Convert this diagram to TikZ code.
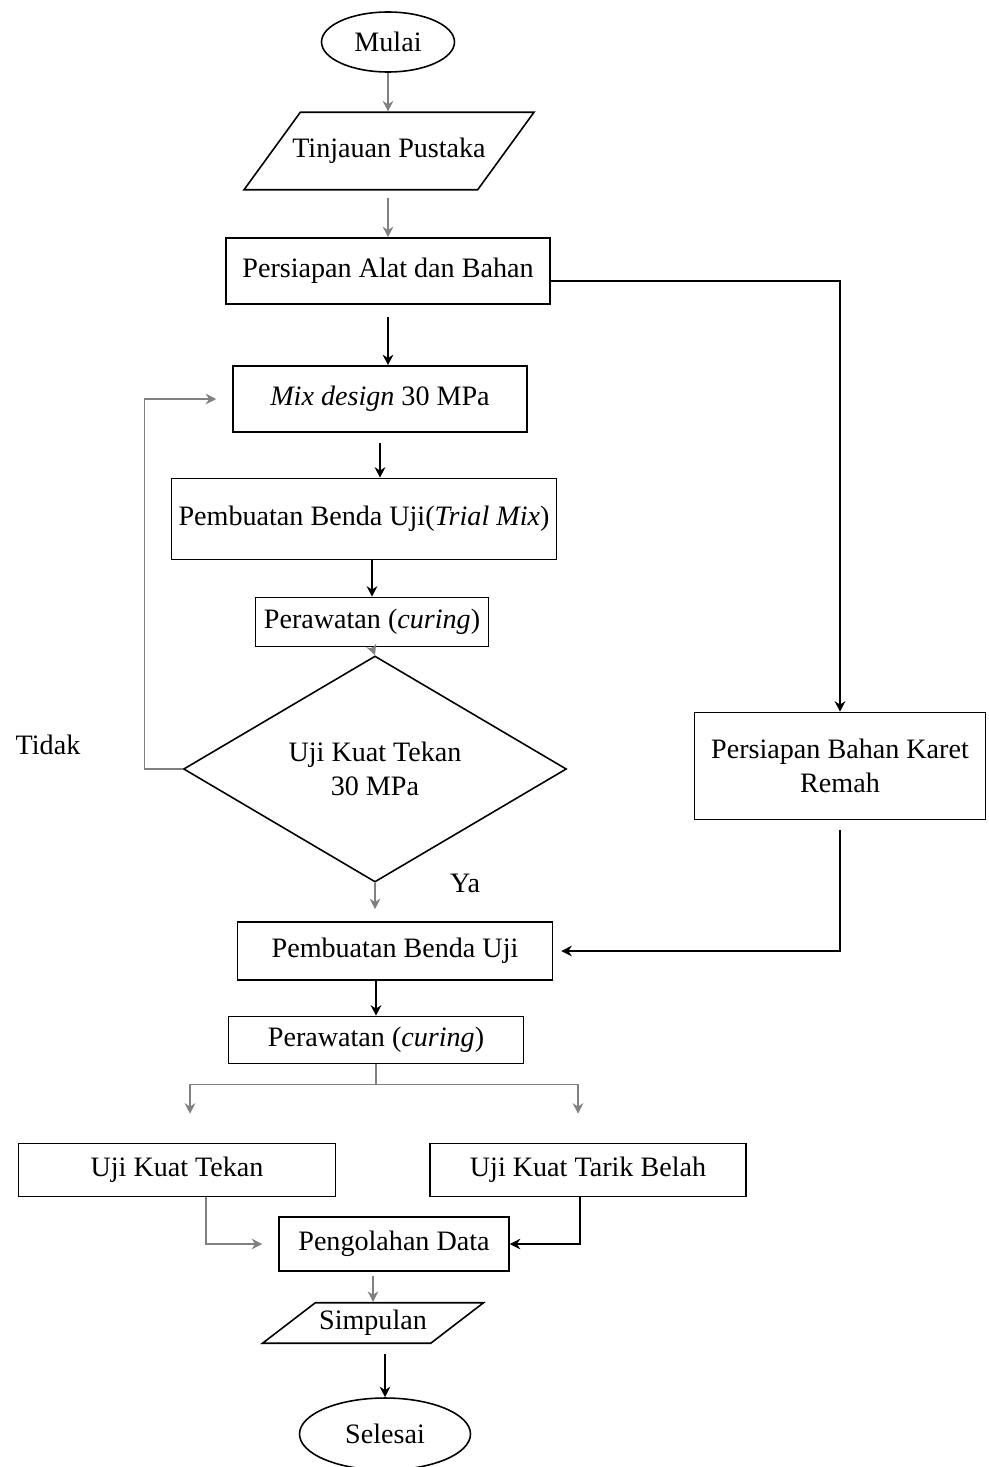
\documentclass[tikz,border=0pt]{standalone}
\usepackage{fontspec}
\setmainfont{Liberation Serif}
\usetikzlibrary{shapes.geometric,calc,arrows.meta}

\begin{document}
\begin{tikzpicture}[x=0.02cm,y=-0.02cm,>={Stealth[length=6pt,width=6pt]},
	font=\fontsize{16}{19}\selectfont,
	proses/.style={draw,line width=0.9pt,inner sep=1pt,align=center},
	terminal/.style={draw,ellipse,line width=0.9pt,inner sep=1pt},
	data/.style={draw,trapezium,trapezium stretches body,line width=0.9pt,inner xsep=1pt},
	keputusan/.style={draw,diamond,line width=0.9pt,inner sep=0pt,align=center},
	alir/.style={->,line width=0.9pt},
	alirabu/.style={->,gray,line width=0.8pt}]
			\useasboundingbox (0,0) rectangle (989,1467);
			
			\node[terminal,minimum width=2.66cm,minimum height=1.2cm] (mulai) at (388,42) {Mulai};
			\node[data,trapezium left angle=54,trapezium right angle=126,inner ysep=0.52cm,inner xsep=-5pt,minimum width=5.8cm] (tinjauan) at (389,151) {Tinjauan Pustaka};
			\node[proses,minimum width=6.48cm,minimum height=1.32cm] (alat) at (388,271) {Persiapan Alat dan Bahan};
			\node[proses,minimum width=5.88cm,minimum height=1.32cm] (mix) at (380,399) {\textit{Mix design} 30 MPa};
			\node[proses,minimum width=7.7cm,minimum height=1.62cm] (trial) at (364,519) {Pembuatan Benda Uji(\textit{Trial Mix})};
			\node[proses,minimum width=4.66cm,minimum height=0.98cm] (rawat) at (372,622) {Perawatan (\textit{curing})};
			\node[keputusan,minimum width=7.66cm,minimum height=3.62cm] (uji) at (375,769) {Uji Kuat Tekan\\30 MPa};
			\node[proses,minimum width=5.82cm,minimum height=2.14cm] (karet) at (840,766) {Persiapan Bahan Karet\\Remah};
			\node[proses,minimum width=6.3cm,minimum height=1.16cm] (benda) at (395,951) {Pembuatan Benda Uji};
			\node[proses,minimum width=5.9cm,minimum height=0.94cm] (rawatdua) at (376,1040) {Perawatan (\textit{curing})};
			\node[proses,minimum width=6.34cm,minimum height=1.06cm] (tekan) at (177,1170) {Uji Kuat Tekan};
			\node[proses,minimum width=6.32cm,minimum height=1.06cm] (tarik) at (588,1170) {Uji Kuat Tarik Belah};
			\node[proses,minimum width=4.6cm,minimum height=1.08cm] (olah) at (394,1244) {Pengolahan Data};
			\node[data,trapezium left angle=37.5,trapezium right angle=142.5,inner ysep=0.15cm,minimum width=4.42cm] (simpulan) at (373,1323) {Simpulan};
			\node[terminal,minimum width=3.42cm,minimum height=1.44cm] (selesai) at (385,1434) {Selesai};
			
			\node (tidak) at (48,745) {Tidak};
			\node (ya) at (465,883) {Ya};
			
			\draw[alirabu] (mulai) -- (mulai |- tinjauan.north);
			\draw[alirabu,shorten <=0.14cm] (alat.north |- tinjauan.south) -- (alat.north);
			\draw[alir] ([yshift=-0.2cm]alat.east) -| (karet.north);
			\draw[alir,shorten <=0.24cm] (alat.south) -- (alat.south |- mix.north);
			\draw[alir,shorten <=0.2cm] (mix.south) -- (mix.south |- trial.north);
			\draw[alir] (rawat.north |- trial.south) -- (rawat.north);
			\draw[alirabu] (rawat.south) -- (uji.north);
			\draw[alirabu,shorten >=0.32cm] (uji.west) -- ++(-38,0) |- (mix.west);
			\draw[alirabu,shorten >=0.24cm] (uji.south) -- (uji.south |- benda.north);
			\draw[alir,shorten <=0.2cm,shorten >=0.16cm] (karet.south) |- (benda.east);
			\draw[alir] (rawatdua.north |- benda.south) -- (rawatdua.north);
			\draw[gray,line width=0.8pt] (rawatdua.south) -- ++(0,20) coordinate (cabang);
			\draw[alirabu,shorten >=0.58cm] (cabang) -| ([xshift=0.26cm]tekan.north);
			\draw[alirabu,shorten >=0.58cm] (cabang) -| ([xshift=-0.2cm]tarik.north);
			\draw[alirabu,shorten >=0.32cm] ([xshift=0.58cm]tekan.south) |- (olah.west);
			\draw[alir] ([xshift=-0.16cm]tarik.south) |- (olah.east);
			\draw[alirabu,shorten <=0.08cm] (simpulan.north |- olah.south) -- (simpulan.north);
			\draw[alir,shorten <=0.2cm] (selesai.north |- simpulan.south) -- (selesai.north);
		\end{tikzpicture}
\end{document}
